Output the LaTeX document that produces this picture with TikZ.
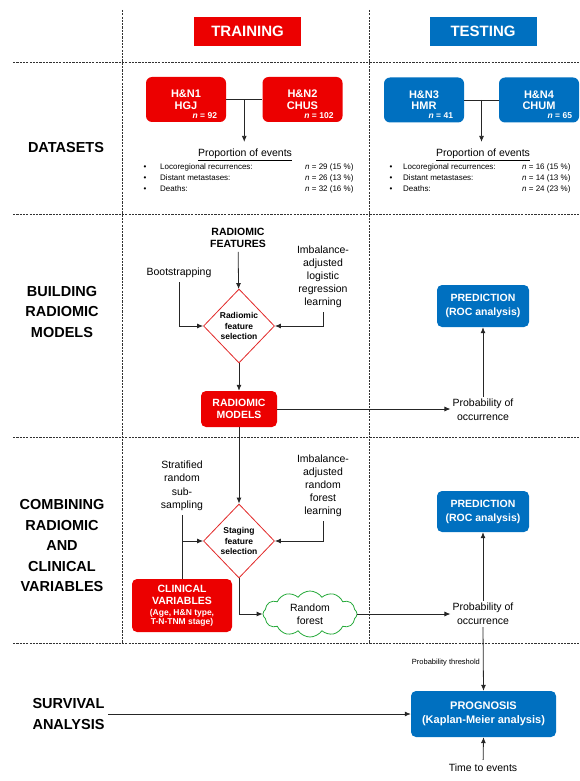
\documentclass[tikz,border=0pt]{standalone}
\usepackage{fontspec}
\setmainfont{Liberation Sans}
\usepackage{xcolor}
\usetikzlibrary{positioning}
\usetikzlibrary{arrows.meta}
\usetikzlibrary{math}
\usetikzlibrary{calc}
\usetikzlibrary{shapes.geometric}
\usetikzlibrary{shapes.symbols}

\definecolor{trainred}{RGB}{236,0,0}
\definecolor{testblue}{RGB}{0,112,192}
\definecolor{selred}{RGB}{225,40,40}
\definecolor{cloudgreen}{RGB}{40,170,60}
\definecolor{sepgray}{RGB}{50,50,50}

\newcommand{\smallclin}{\fontsize{8.5}{10}\selectfont}

\begin{document}
\begin{tikzpicture}[x=1pt,y=-1pt,
  sepline/.style={draw=sepgray, line width=0.7pt, dash pattern=on 2.2pt off 1.1pt},
  head/.style={font=\fontsize{14.5}{20.5}\selectfont\bfseries, align=center},
  headbox/.style={minimum width=107pt, minimum height=29pt, text=white,
    font=\fontsize{15}{15}\selectfont\bfseries},
  trainbox/.style={fill=trainred, text=white, rounded corners=6pt,
    minimum width=80pt, minimum height=45pt, align=center,
    font=\fontsize{11}{11.5}\selectfont\bfseries},
  testbox/.style={trainbox, fill=testblue},
  nlabel/.style={text=white, inner sep=1pt, font=\fontsize{8.5}{8.5}\selectfont\bfseries},
  txt/.style={font=\fontsize{10.5}{13}\selectfont, align=center, inner sep=2pt},
  bold/.style={txt, font=\fontsize{10.5}{12}\selectfont\bfseries},
  listtxt/.style={inner sep=0pt, font=\fontsize{8}{11}\selectfont},
  selbox/.style={diamond, draw=selred, line width=0.8pt, inner sep=0pt,
    minimum width=71pt, minimum height=74pt, align=center,
    font=\fontsize{8.5}{10.5}\selectfont\bfseries},
  redbox/.style={fill=trainred, text=white, rounded corners=5pt, align=center,
    font=\fontsize{10.5}{12.5}\selectfont\bfseries},
  bluebox/.style={fill=testblue, text=white, rounded corners=5pt, align=center,
    font=\fontsize{10.5}{14}\selectfont\bfseries},
  link/.style={draw=black!85, line width=0.8pt},
  arr/.style={link, -{Latex[length=6pt,width=5pt]}},
]

  \tikzmath{
    \xa = 122; % left column separator
    \xb = 369; % training / testing separator
    \ya = 62;  % top of datasets row
    \yb = 214; % top of radiomic models row
    \yc = 437; % top of combining row
    \yd = 643; % top of survival row
  }

  \useasboundingbox (0,0) rectangle (579,781);

  % dashed grid
  \draw[sepline] (\xa,10) -- (\xa,\yd);
  \draw[sepline] (\xb,10) -- (\xb,\yd);
  \foreach \y in {\ya,\yb,\yc,\yd}
    \draw[sepline] (13,\y) -- (579,\y);

  % column titles
  \node[headbox, fill=trainred] (training) at (247.5,31.5) {TRAINING};
  \node[headbox, fill=testblue] (testing) at (483,31.5) {TESTING};

  % row titles
  \node[head] (datasets) at (66,148) {DATASETS};
  \node[head] (building) at (62,312) {BUILDING\\RADIOMIC\\MODELS};
  \node[head] (combining) at (62,546) {COMBINING\\RADIOMIC\\AND\\CLINICAL\\VARIABLES};
  \node[head, align=left, anchor=west] (survival) at (29,714) {SURVIVAL\\ANALYSIS};

  % datasets, training side
  \node[trainbox] (hn1) at (186,99.5) {H\&N1\\HGJ};
  \node[trainbox] (hn2) at (302.5,99.5) {H\&N2\\CHUS};
  \node[nlabel, anchor=south east] (n1) at ([shift={(-8,-2.5)}]hn1.south east) {\textit{n} = 92};
  \node[nlabel, anchor=south east] (n2) at ([shift={(-8,-2.5)}]hn2.south east) {\textit{n} = 102};
  \coordinate (j1) at ($(hn1.east)!0.5!(hn2.west)$);
  \draw[link] (hn1) -- (hn2);
  \node[txt] (prop1) at (245,155) {\underline{Proportion of events}};
  \draw[arr, shorten >=5pt] (j1) -- (j1 |- prop1.north);
  \node[listtxt, anchor=north west] (list1) at (143.5,161.5) {%
    \begin{tabular}{@{}p{16.5pt}@{}p{145pt}@{}l@{}}
      \textbullet & Locoregional recurrences: & \textit{n} = 29 (15 \%)\\
      \textbullet & Distant metastases:       & \textit{n} = 26 (13 \%)\\
      \textbullet & Deaths:                   & \textit{n} = 32 (16 \%)
    \end{tabular}};

  % datasets, testing side
  \node[testbox] (hn3) at (424,100) {H\&N3\\HMR};
  \node[testbox] (hn4) at (539,100) {H\&N4\\CHUM};
  \node[nlabel, anchor=south east] (n3) at ([shift={(-10,-2.5)}]hn3.south east) {\textit{n} = 41};
  \node[nlabel, anchor=south east] (n4) at ([shift={(-6,-2.5)}]hn4.south east) {\textit{n} = 65};
  \coordinate (j2) at ($(hn3.east)!0.5!(hn4.west)$);
  \draw[link] (hn3) -- (hn4);
  \node[txt] (prop2) at (483,155) {\underline{Proportion of events}};
  \draw[arr, shorten >=5pt] (j2) -- (j2 |- prop2.north);
  \node[listtxt, anchor=north west] (list2) at (389.5,161.5) {%
    \begin{tabular}{@{}p{13.5pt}@{}p{119pt}@{}l@{}}
      \textbullet & Locoregional recurrences: & \textit{n} = 16 (15 \%)\\
      \textbullet & Distant metastases:       & \textit{n} = 14 (13 \%)\\
      \textbullet & Deaths:                   & \textit{n} = 24 (23 \%)
    \end{tabular}};

  % building radiomic models
  \node[bold] (rfeat) at (238,238) {RADIOMIC\\FEATURES};
  \node[selbox] (rsel) at (239,326) {Radiomic\\feature\\selection};
  \node[txt] (boot) at (179,273) {Bootstrapping};
  \node[txt] (logit) at (323,277) {Imbalance-\\adjusted\\logistic\\regression\\learning};
  \node[redbox, minimum width=76pt, minimum height=36pt] (rmod) at (239,409) {RADIOMIC\\MODELS};
  \node[txt, font=\fontsize{10.5}{14}\selectfont] (prob1) at (483,410) {Probability of\\occurrence};
  \node[bluebox, minimum width=92pt, minimum height=42pt] (pred1) at (483,306) {PREDICTION\\(ROC analysis)};

  \draw[arr, shorten <=2pt] (rfeat) -- (rsel);
  \draw[arr, shorten <=2pt] (boot.south) |- (rsel.west);
  \draw[arr, shorten <=2pt] (logit.south) |- (rsel.east);
  \draw[arr] (rsel.south) -- (rmod.north);
  \draw[arr] (rmod.east) -- (rmod.east -| prob1.west);
  \draw[arr] (prob1.north) -- (pred1.south);

  % combining radiomic and clinical variables
  \node[selbox] (ssel) at (239,541) {Staging\\feature\\selection};
  \node[txt, font=\fontsize{10.5}{13.5}\selectfont] (strat) at (182,486) {Stratified\\random\\sub-\\sampling};
  \node[txt] (rfl) at (323,486) {Imbalance-\\adjusted\\random\\forest\\learning};
  \node[redbox, minimum width=100pt, minimum height=53pt] (clin) at (182,605.5)
    {CLINICAL\\VARIABLES\\[-2pt]{\smallclin(Age, H\&N type,}\\[-3pt]{\smallclin T-N-TNM stage)}};
  \node[cloud, draw=cloudgreen, line width=0.8pt, cloud puffs=12, cloud puff arc=110,
    aspect=2.6, inner sep=0pt, minimum width=94pt, minimum height=38pt,
    txt] (forest) at (310,614) {Random\\forest};
  \node[txt, font=\fontsize{10.5}{14}\selectfont] (prob2) at (483,614) {Probability of\\occurrence};
  \node[bluebox, minimum width=92pt, minimum height=41pt] (pred2) at (483,511.5) {PREDICTION\\(ROC analysis)};

  \coordinate (sj) at (strat.south |- ssel.west);
  \draw[arr] (rmod.south) -- (ssel.north);
  \draw[link, shorten <=2pt] (strat.south) -- (clin.north);
  \draw[arr] (sj) -- (ssel.west);
  \draw[arr, shorten <=2pt] (rfl.south) |- (ssel.east);
  \draw[arr] (ssel.south) |- (forest.west);
  \draw[arr] (forest.east) -- (forest.east -| prob2.west);
  \draw[arr] (prob2.north) -- (pred2.south);

  % survival analysis
  \node[bluebox, font=\fontsize{11}{14}\selectfont\bfseries,
    minimum width=145pt, minimum height=46pt] (prog) at (483.5,714) {PROGNOSIS\\(Kaplan-Meier analysis)};
  \node[txt] (time) at (483,768) {Time to events};

  \draw[arr] (survival.east) -- (survival.east -| prog.west);
  \draw[arr] (prob2.south) -- (prog.north)
    node[pos=0.55, left, inner sep=3pt, font=\fontsize{7.5}{9}\selectfont] (thr) {Probability threshold};
  \draw[arr, shorten <=2pt] (time) -- (prog.south);

\end{tikzpicture}
\end{document}
